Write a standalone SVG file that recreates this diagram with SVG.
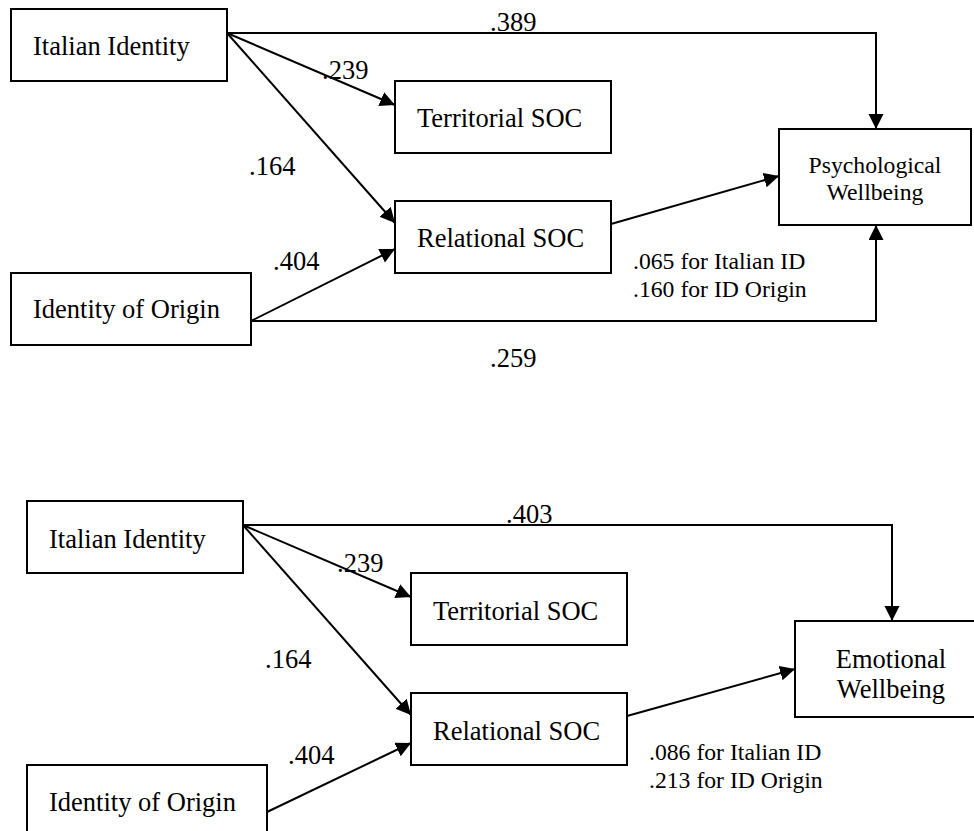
<svg xmlns="http://www.w3.org/2000/svg" width="974" height="831" viewBox="0 0 974 831">
  <style>
    .box { fill: #ffffff; stroke: #000000; stroke-width: 2; }
    .lbl { font-family: "Liberation Serif", "Times New Roman", serif; font-size: 26.5px; fill: #000000; }
    .sm { font-family: "Liberation Serif", "Times New Roman", serif; font-size: 23.7px; fill: #000000; }
    .edge { fill: none; stroke: #000000; stroke-width: 2; }
    .arr { marker-end: url(#head); }
  </style>
  <defs>
    <marker id="head" markerUnits="userSpaceOnUse" markerWidth="16" markerHeight="16" refX="15" refY="7.5" orient="auto">
      <path d="M0,0 L15,7.5 L0,15 Z" fill="#000000"/>
    </marker>
  </defs>
  <rect width="974" height="831" fill="#ffffff"/>

  <!-- upper model: psychological wellbeing -->
  <g id="connectors-top">
    <polyline class="edge arr" points="227,33 876,33 876,129"/>
    <line class="edge arr" x1="227" y1="33" x2="395" y2="105"/>
    <line class="edge arr" x1="227" y1="33" x2="395" y2="223"/>
    <line class="edge arr" x1="251" y1="321" x2="395" y2="249"/>
    <line class="edge arr" x1="611" y1="224" x2="779" y2="176"/>
    <polyline class="edge arr" points="251,321 876,321 876,225"/>
    <text class="lbl" x="490" y="31">.389</text>
    <text class="lbl" x="322" y="79">.239</text>
    <text class="lbl" x="249" y="175">.164</text>
    <text class="lbl" x="273" y="270">.404</text>
    <text class="sm" x="633" y="269">.065 for Italian ID</text>
    <text class="sm" x="633" y="297">.160 for ID Origin</text>
    <text class="lbl" x="490" y="367">.259</text>
  </g>
  <g id="italian-identity-top">
    <rect class="box" x="11" y="9" width="216" height="72"/>
    <text class="lbl" x="33" y="55">Italian Identity</text>
  </g>
  <g id="territorial-soc-top">
    <rect class="box" x="395" y="81" width="216" height="72"/>
    <text class="lbl" x="417" y="127">Territorial SOC</text>
  </g>
  <g id="relational-soc-top">
    <rect class="box" x="395" y="201" width="216" height="72"/>
    <text class="lbl" x="417" y="247">Relational SOC</text>
  </g>
  <g id="identity-origin-top">
    <rect class="box" x="11" y="273" width="240" height="72"/>
    <text class="lbl" x="33" y="318">Identity of Origin</text>
  </g>
  <g id="psychological-wellbeing">
    <rect class="box" x="779" y="129" width="192" height="96"/>
    <text class="sm" x="875" y="173" text-anchor="middle">Psychological</text>
    <text class="sm" x="875" y="200" text-anchor="middle">Wellbeing</text>
  </g>

  <!-- lower model: emotional wellbeing -->
  <g id="connectors-bottom">
    <polyline class="edge arr" points="243,525 892,525 892,621"/>
    <line class="edge arr" x1="243" y1="525" x2="411" y2="597"/>
    <line class="edge arr" x1="243" y1="525" x2="411" y2="715"/>
    <line class="edge arr" x1="267" y1="812" x2="411" y2="743"/>
    <line class="edge arr" x1="627" y1="716" x2="795" y2="669"/>
    <text class="lbl" x="506" y="523">.403</text>
    <text class="lbl" x="337" y="572">.239</text>
    <text class="lbl" x="265" y="668">.164</text>
    <text class="lbl" x="288" y="764">.404</text>
    <text class="sm" x="649" y="760">.086 for Italian ID</text>
    <text class="sm" x="649" y="788">.213 for ID Origin</text>
  </g>
  <g id="italian-identity-bottom">
    <rect class="box" x="27" y="501" width="216" height="72"/>
    <text class="lbl" x="49" y="548">Italian Identity</text>
  </g>
  <g id="territorial-soc-bottom">
    <rect class="box" x="411" y="573" width="216" height="72"/>
    <text class="lbl" x="433" y="620">Territorial SOC</text>
  </g>
  <g id="relational-soc-bottom">
    <rect class="box" x="411" y="693" width="216" height="72"/>
    <text class="lbl" x="433" y="740">Relational SOC</text>
  </g>
  <g id="identity-origin-bottom">
    <rect class="box" x="27" y="765" width="240" height="72"/>
    <text class="lbl" x="49" y="811">Identity of Origin</text>
  </g>
  <g id="emotional-wellbeing">
    <rect class="box" x="795" y="621" width="192" height="96"/>
    <text class="lbl" x="891" y="668" text-anchor="middle">Emotional</text>
    <text class="lbl" x="891" y="698" text-anchor="middle">Wellbeing</text>
  </g>
</svg>
